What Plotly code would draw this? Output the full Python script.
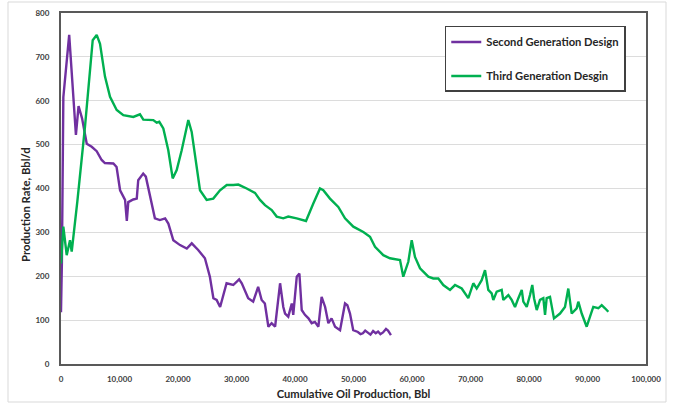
import plotly.graph_objects as go

# Second generation design: cumulative oil (bbl) vs rate (bbl/d)
second_cum = [0, 150, 400, 1400, 2550, 3000, 3600, 4400, 5250, 6100, 6950, 7500,
              8950, 9500, 10100, 10950, 11250, 11500, 12350, 12950, 13200, 14050,
              14500, 15200, 16050, 16900, 17800, 18350, 19200, 20350, 21500, 22350,
              23450, 24600, 25450, 26050, 26600, 27200, 28300, 29450, 30450, 30900,
              32000, 32850, 33700, 34300, 34850, 35450, 36000, 36600, 37450, 38000,
              38300, 38850, 39450, 39700, 40300, 40750, 41150, 41700, 42300, 42850,
              43400, 44000, 44550, 45150, 45700, 46250, 46850, 47700, 48550, 48950,
              49400, 49950, 50400, 50750, 51200, 51600, 52000, 52500, 52900, 53350,
              53800, 54200, 54600, 55050, 55550, 55900, 56400]
second_rate = [118, 230, 608, 750, 522, 588, 560, 502, 495, 485, 465, 458,
               457, 449, 396, 374, 326, 369, 375, 377, 419, 434,
               427, 385, 332, 328, 332, 320, 282, 271, 263, 275,
               260, 241, 199, 150, 146, 130, 184, 180, 193, 184,
               150, 142, 176, 146, 138, 85, 93, 85, 184, 130,
               115, 108, 138, 112, 199, 206, 123, 112, 104, 93,
               96, 85, 153, 130, 93, 104, 85, 77, 138, 134,
               115, 77, 74, 73, 68, 70, 76, 72, 67, 75,
               70, 74, 68, 72, 80, 76, 66]

# Third generation design
third_cum = [0, 400, 975, 1540, 1830, 2100, 2390, 2790, 4100, 5420, 6100, 6670,
             7520, 8380, 9520, 10650, 12360, 13210, 13500, 14070, 15780, 16360,
             16800, 17490, 18340, 19090, 19780, 20630, 21760, 22340, 23200, 23760,
             24900, 26030, 27180, 28330, 29450, 30310, 31740, 33160, 34020, 34870,
             36020, 36870, 38000, 38850, 40290, 41880, 43130, 44270, 44840, 45980,
             47400, 48550, 49970, 51680, 52820, 53680, 55090, 56240, 57950, 58510,
             59370, 59950, 60510, 61370, 62790, 63640, 64500, 65350, 66500, 67350,
             68500, 69620, 70480, 71060, 71910, 72480, 72770, 73040, 73620, 73900,
             74480, 75330, 75610, 76190, 76470, 77040, 77610, 78180, 78760, 79030,
             79610, 80170, 80560, 80860, 81320, 81880, 82450, 82740, 83020, 83590,
             84050, 84270, 85300, 86150, 86720, 87300, 88150, 88430, 89010, 89860,
             90430, 90990, 91850, 92430, 92990, 93560]
third_rate = [229, 313, 248, 282, 256, 286, 313, 370, 541, 738, 750, 730,
              655, 609, 579, 567, 563, 567, 569, 557, 556, 550,
              552, 537, 487, 423, 442, 487, 556, 529, 449, 396,
              374, 377, 396, 408, 408, 409, 400, 390, 374, 362,
              351, 336, 332, 336, 332, 326, 366, 400, 396, 377,
              358, 332, 313, 301, 290, 267, 248, 241, 237, 199,
              233, 282, 244, 218, 199, 195, 195, 180, 169, 180,
              172, 150, 184, 172, 191, 214, 191, 169, 161, 146,
              165, 169, 146, 153, 157, 146, 130, 150, 169, 142,
              130, 157, 180, 150, 123, 146, 150, 112, 150, 153,
              123, 104, 115, 130, 172, 115, 127, 142, 115, 85,
              108, 130, 127, 134, 127, 119]

x_ticks = list(range(0, 100001, 10000))
y_ticks = list(range(0, 801, 100))

FONT = "Lato"
PURPLE = "#7030A0"
GREEN = "#00B050"

fig = go.Figure()
fig.add_trace(go.Scatter(x=second_cum, y=second_rate, mode="lines",
                         name="Second Generation Design", legendgroup="a",
                         line=dict(color=PURPLE, width=2.4)))
fig.add_trace(go.Scatter(x=third_cum, y=third_rate, mode="lines",
                         name="Third Generation Desgin", legendgroup="b",
                         line=dict(color=GREEN, width=2.4)))

fig.update_layout(
    width=675, height=405,
    margin=dict(l=61, r=29, t=13, b=41, autoexpand=False),
    paper_bgcolor="white", plot_bgcolor="white",
    font=dict(family=FONT, color="#404040"),
    showlegend=True,
    legend=dict(x=0.656, y=0.963, xanchor="left", yanchor="top",
                bgcolor="white", bordercolor="#404040", borderwidth=1.5,
                font=dict(family=FONT, size=11.2, color="#262626", weight="bold"),
                traceorder="grouped", tracegroupgap=15, itemwidth=30,
                ),
    shapes=[
        # outer chart border
        dict(type="rect", xref="paper", yref="paper",
             x0=(8 - 61) / 585, x1=(666 - 61) / 585,
             y0=(364 - 402) / 351, y1=(364 - 2) / 351,
             line=dict(color="#d9d9d9", width=1), layer="below"),
    ],
    annotations=[
        dict(text="Production Rate, Bbl/d", textangle=-90,
             xref="paper", yref="paper", x=(25 - 61) / 585, y=(364 - 205) / 351,
             xanchor="center", yanchor="middle", showarrow=False,
             font=dict(family=FONT, size=11.3, color="#262626", weight="bold")),
    ],
)

fig.update_xaxes(
    range=[0, 100000], tickvals=x_ticks, tickformat=",",
    showgrid=False, zeroline=False, automargin=False,
    showline=True, linecolor="#595959", linewidth=2, mirror=True,
    ticks="", ticklabelstandoff=6,
    tickfont=dict(family=FONT, size=8, color="#404040", weight="bold"),
    title=dict(text="Cumulative Oil Production, Bbl", standoff=8,
               font=dict(family=FONT, size=11.2, color="#262626", weight="bold")),
)
fig.update_yaxes(
    range=[0, 800], tickvals=y_ticks,
    showgrid=True, gridcolor="#dcdcdc", gridwidth=1, zeroline=False,
    automargin=False,
    showline=True, linecolor="#595959", linewidth=2, mirror=True,
    ticks="", ticklabelstandoff=8,
    tickfont=dict(family=FONT, size=8, color="#404040", weight="bold"),
)

fig.write_html("out.html")
